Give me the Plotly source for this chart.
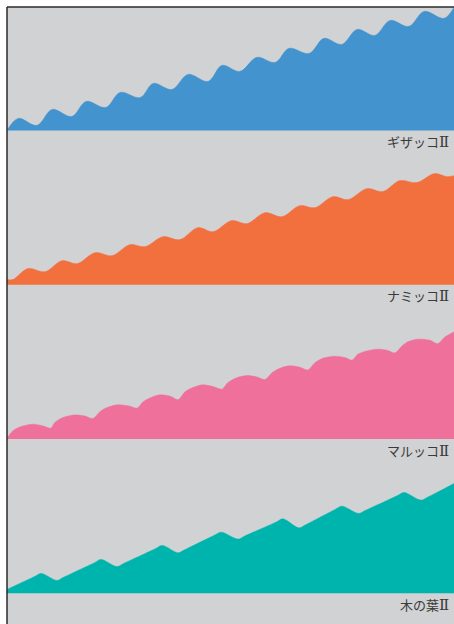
import plotly.graph_objects as go
from plotly.subplots import make_subplots

# ---- data ----
labels = ["ギザッコ", "ナミッコ", "マルッコ", "木の葉"]
label_suffix = "Ⅱ"
colors = ["#4293CE", "#F26F3E", "#EE709B", "#00B4AE"]

giza_x = [0, 2.5, 6.7, 10.1, 14.5, 17.7, 22.1, 25.3, 29.8, 32.7, 36.9, 40.5, 45.0, 48.1,
          52.1, 55.9, 60.0, 63.1, 67.6, 70.9, 74.9, 78.3, 82.3, 85.7, 89.9, 93.3, 97.8, 100]
giza_y = [0, 9.7, 4.1, 17.0, 11.3, 23.5, 18.6, 30.8, 26.7, 38.1, 33.2, 45.4, 39.7, 52.7,
          47.8, 59.2, 55.1, 66.5, 62.4, 74.6, 69.7, 81.8, 77.0, 89.1, 84.3, 96.4, 90.8, 99.7]

nami_x = [0, 1.3, 4.7, 8.5, 12.3, 15.7, 19.7, 23.5, 27.5, 30.9, 34.9, 38.7, 42.7, 46.1,
          50.3, 53.7, 57.7, 61.5, 65.5, 68.9, 72.9, 76.3, 80.5, 84.1, 87.9, 91.7, 95.7, 98.4, 100]
nami_y = [4.1, 4.1, 13.0, 10.5, 19.4, 17.0, 25.9, 23.5, 32.4, 30.8, 38.9, 36.5, 46.2, 42.9,
          51.9, 49.4, 58.3, 55.1, 64.0, 62.4, 71.3, 68.9, 77.8, 75.4, 84.3, 82.7, 90.0, 87.5, 88.3]

maru_x = [0, 1.3, 2.9, 5.8, 8.1, 9.8, 10.7, 12.5, 15.2, 17.4, 19.2, 20.8, 22.4, 24.8, 27.5,
          29.1, 30.4, 32.0, 34.2, 36.5, 38.3, 39.8, 41.6, 43.8, 46.1, 48.1, 49.4, 51.5, 53.7,
          55.9, 57.7, 59.3, 61.1, 63.3, 65.5, 67.3, 68.9, 70.7, 73.4, 75.6, 77.2, 78.5, 80.5,
          82.8, 85.0, 86.8, 88.4, 89.7, 91.9, 94.6, 96.4, 98.0, 100]
maru_y = [0.5, 6.5, 9.7, 11.9, 10.5, 8.7, 13.2, 17.3, 19.4, 18.6, 16.5, 22.1, 25.4, 27.6, 26.5,
          24.9, 30.0, 33.2, 35.7, 34.6, 31.8, 38.1, 41.6, 43.8, 42.4, 40.3, 45.6, 49.7, 51.3,
          50.2, 48.1, 53.7, 57.3, 59.2, 58.1, 55.9, 61.8, 65.4, 67.0, 65.9, 63.8, 68.6, 71.3,
          72.7, 71.9, 69.7, 75.4, 78.8, 80.8, 80.0, 77.2, 82.7, 86.7]

konoha_x = [0, 6.3, 7.6, 11.2, 12.5, 19.7, 21.0, 24.6, 26.0, 33.3, 34.7, 38.3, 39.6, 46.5,
            47.9, 51.7, 53.0, 60.4, 61.7, 65.3, 66.7, 73.6, 74.9, 78.7, 80.1, 87.5, 88.8,
            92.6, 94.0, 100]
konoha_y = [3.0, 13.7, 16.0, 10.3, 12.6, 24.9, 27.3, 21.6, 23.9, 36.2, 38.7, 32.7, 34.9, 47.1,
            49.4, 43.8, 46.0, 57.9, 60.2, 52.9, 55.2, 68.2, 70.5, 64.6, 66.9, 79.3, 81.6,
            75.4, 77.6, 88.9]

series = [(giza_x, giza_y), (nami_x, nami_y), (maru_x, maru_y), (konoha_x, konoha_y)]
smooth = [1.0, 1.0, 0.8, 1.0]

fig = make_subplots(rows=4, cols=1, shared_xaxes=True, vertical_spacing=0)

for i, ((xs, ys), col, lab) in enumerate(zip(series, colors, labels)):
    r = i + 1
    fig.add_trace(go.Scatter(x=xs, y=ys, mode="lines",
                             line=dict(color=col, width=0.5, shape="spline", smoothing=smooth[i]),
                             fill="tozeroy", fillcolor=col, hoverinfo="skip", showlegend=False),
                  row=r, col=1)
    fig.update_yaxes(range=[-25, 100], visible=False, fixedrange=True, row=r, col=1)
    fig.update_xaxes(range=[0, 100], visible=False, fixedrange=True, row=r, col=1)
    yref = "y" if r == 1 else f"y{r}"
    xref = "x" if r == 1 else f"x{r}"
    text = (lab + "<span style='font-family:\"Liberation Serif\",\"DejaVu Serif\",serif;"
            "font-size:15px'>" + label_suffix + "</span>")
    fig.add_annotation(x=100, y=-9, xref=xref, yref=yref, text=text, showarrow=False,
                       xanchor="right", yanchor="middle", xshift=-3,
                       font=dict(family="Noto Sans CJK JP", size=13, color="#3a3a3a"))

# continuous gray background behind all panels
fig.add_shape(type="rect", xref="paper", yref="paper", x0=0, x1=1, y0=0, y1=1,
              fillcolor="#D1D2D4", line=dict(width=0), layer="below")
fig.add_shape(type="line", xref="paper", yref="paper", x0=0, x1=0, y0=0, y1=1,
              line=dict(color="#2a2a2a", width=1.5))
fig.add_shape(type="line", xref="paper", yref="paper", x0=0, x1=1, y0=1, y1=1,
              line=dict(color="#2a2a2a", width=1.5))

fig.update_layout(width=454, height=624, margin=dict(l=7, r=0, t=7, b=0),
                  paper_bgcolor="white", plot_bgcolor="rgba(0,0,0,0)")

fig.write_html("out.html", config={"displayModeBar": False},
               post_script="document.body.style.margin='0';document.body.style.overflow='hidden';")
